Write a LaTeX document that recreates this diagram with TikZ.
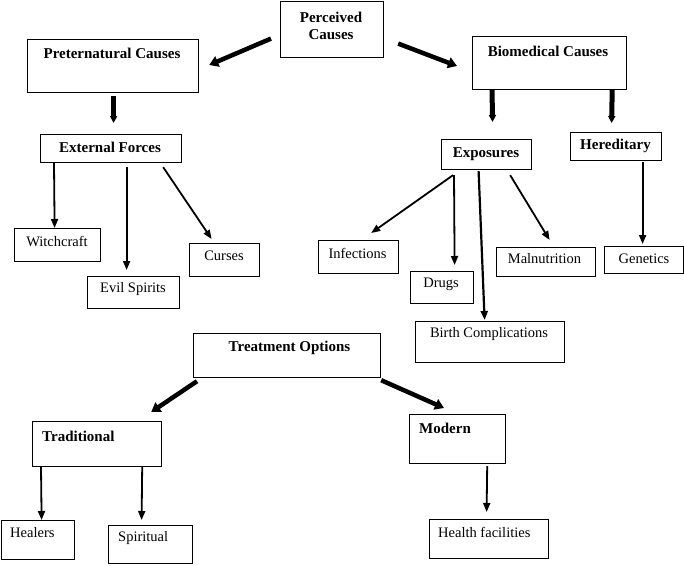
\documentclass[tikz,border=0pt]{standalone}
\usepackage{fontspec}
\setmainfont{Liberation Serif}
\usetikzlibrary{arrows.meta,calc}
\begin{document}
\begin{tikzpicture}[x=1pt,y=-1pt,
  box/.style={draw,line width=1.2pt,inner sep=0pt,anchor=north west},
  txt/.style={inner sep=0pt,font=\fontsize{14.5}{17}\selectfont},
  btxt/.style={inner sep=0pt,font=\fontsize{15}{17}\selectfont\bfseries},
  thin/.style={line width=1.8pt,-{Triangle[length=9pt,width=7pt]}},
  fat/.style={line width=4.5pt,-{Triangle[length=9pt,width=11pt]}},
  fatv/.style={line width=5pt,-{Triangle[length=7pt,width=7pt]}}]
\useasboundingbox (0,0) rectangle (684,565);
\fill[white] (0,0) rectangle (684,565);
% boxes
\node[box,minimum width=103,minimum height=56] (pc) at (280,1) {};
\node[box,minimum width=171,minimum height=53] (pre) at (27,39) {};
\node[box,minimum width=154,minimum height=53] (bio) at (472,36) {};
\node[box,minimum width=141,minimum height=28] (ef) at (40,134) {};
\node[box,minimum width=86,minimum height=33] (wc) at (14,228) {};
\node[box,minimum width=92,minimum height=32] (es) at (87,276) {};
\node[box,minimum width=70,minimum height=33] (cu) at (189,243) {};
\node[box,minimum width=90,minimum height=30] (ex) at (441,139) {};
\node[box,minimum width=91,minimum height=28] (her) at (570,132) {};
\node[box,minimum width=80,minimum height=33] (inf) at (318,240) {};
\node[box,minimum width=63,minimum height=32] (dr) at (410,271) {};
\node[box,minimum width=99,minimum height=29] (mal) at (496,247) {};
\node[box,minimum width=79,minimum height=27] (gen) at (604,246) {};
\node[box,minimum width=149,minimum height=41] (bc) at (415,321) {};
\node[box,minimum width=187,minimum height=44] (to) at (193,333) {};
\node[box,minimum width=129,minimum height=45] (trad) at (32,421) {};
\node[box,minimum width=96,minimum height=49] (mod) at (409,414) {};
\node[box,minimum width=73,minimum height=39] (hea) at (1,520) {};
\node[box,minimum width=84,minimum height=38] (sp) at (108,525) {};
\node[box,minimum width=119,minimum height=39] (hf) at (429,519) {};
% texts
\node[btxt] (tpc1) at (331,17) {Perceived};
\node[btxt] (tpc2) at (331,35) {Causes};
\node[btxt] (tpre) at (112,53) {Preternatural Causes};
\node[btxt] (tbio) at (548,51) {Biomedical Causes};
\node[btxt] (tef) at (110,147) {External Forces};
\node[txt] (twc) at (57,241) {Witchcraft};
\node[txt] (tes) at (133,289) {Evil Spirits};
\node[txt] (tcu) at (224,256) {Curses};
\node[btxt] (tex) at (486,154) {Exposures};
\node[btxt] (ther) at (615.5,146) {Hereditary};
\node[txt] (tinf) at (357.5,253) {Infections};
\node[txt] (tdr) at (441,284) {Drugs};
\node[txt] (tmal) at (544.5,259) {Malnutrition};
\node[txt] (tgen) at (644,259) {Genetics};
\node[txt] (tbc) at (489,334) {Birth Complications};
\node[btxt] (tto) at (289.5,348) {Treatment Options};
\node[btxt,anchor=west] (ttrad) at (42,436) {Traditional};
\node[btxt,anchor=west] (tmod) at (419,428) {Modern};
\node[txt,anchor=west] (thea) at (10,533) {Healers};
\node[txt,anchor=west] (tsp) at (118,538) {Spiritual};
\node[txt,anchor=west] (thf) at (438,532) {Health facilities};
% thick arrows
\draw[fat] ($(pc.west)+(-9,9)$) -- ($(pre.north east)+(10,26)$);
\draw[fat] ($(pc.east)+(14,14)$) -- ($(bio.north west)+(-15,30)$);
\draw[fatv] ($(pre.south)+(0.5,3)$) -- ($(ef.north)+(2.5,-11)$);
\draw[fatv] ($(bio.south west)+(20,0)$) -- ($(ex.north)+(6,-17)$);
\draw[fatv] ($(bio.south east)+(-15,0)$) -- ($(her.north)+(-4.5,-9)$);
\draw[fat] ($(to.south west)+(4,3)$) -- ($(trad.north east)+(-11,-9)$);
\draw[fat] ($(to.south east)+(0,2)$) -- ($(mod.north west)+(35,-6)$);
% thin arrows
\draw[thin] ($(ef.south west)+(14,0)$) -- ($(wc.north)+(-3,0)$);
\draw[thin] ($(ef.south)+(15.5,4)$) -- ($(es.north)+(-7,-6)$);
\draw[thin] ($(ef.south east)+(-19,4)$) -- ($(cu.north)+(-13,-4)$);
\draw[thin] ($(ex.south west)+(12,5)$) -- ($(inf.north east)+(-28,-7)$);
\draw[thin] ($(ex.south west)+(13,5)$) -- ($(dr.north)+(12.5,-6)$);
\draw[thin,line width=2.2pt] ($(ex.south)+(-8,1)$) -- ($(bc.north)+(-5.5,-1)$);
\draw[thin] ($(ex.south east)+(-22,5)$) -- ($(mal.north)+(3.5,-7)$);
\draw[thin] ($(her.south)+(26.5,1)$) -- ($(gen.north)+(-1.5,-2)$);
\draw[thin] ($(trad.south west)+(9,0)$) -- ($(hea.north)+(3.5,0)$);
\draw[thin] ($(trad.south east)+(-20,0)$) -- ($(sp.north)+(-9,-5)$);
\draw[thin] ($(mod.south east)+(-19,2)$) -- ($(hf.north)+(-2.5,-7)$);
\end{tikzpicture}
\end{document}
